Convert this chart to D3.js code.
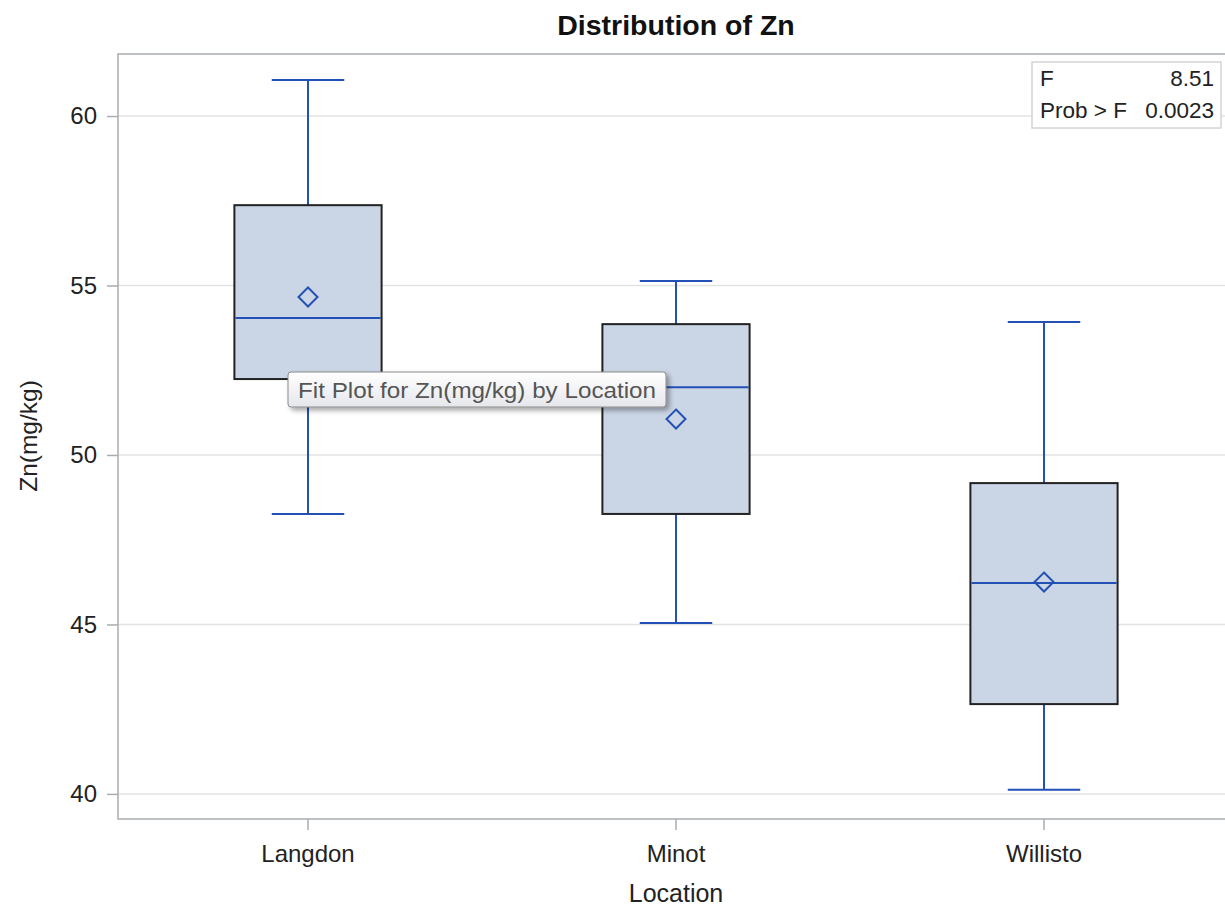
<!DOCTYPE html>
<html><head><meta charset="utf-8">
<script src="https://cdn.jsdelivr.net/npm/d3@7"></script>
<style>body{margin:0;background:#fff}svg{display:block}text{font-family:"Liberation Sans",Arial,sans-serif}</style>
</head><body>
<svg id="c" width="1225" height="909"></svg>
<script>
const categories = ["Langdon","Minot","Willisto"];
const whiskerMin = [48.26, 45.04, 40.12];
const q1Values   = [52.24, 48.26, 42.65];
const medians    = [54.04, 52.00, 46.22];
const q3Values   = [57.37, 53.86, 49.17];
const whiskerMax = [61.06, 55.13, 53.92];
const means      = [54.66, 51.06, 46.25];
const yTicks     = [40, 45, 50, 55, 60];
const statLabels = ["F", "Prob > F"];
const statValues = ["8.51", "0.0023"];

const svg = d3.select("#c");
const L = 118, T = 54, B = 819, R = 1236;
const x = d3.scaleBand().domain(categories).range([124, 1228]);
const y = d3.scaleLinear().domain([39.26, 61.83]).range([B, T]);
const blue = "#2350b4";

svg.append("g").selectAll("line").data(yTicks).join("line")
  .attr("x1", L).attr("x2", R).attr("y1", d => y(d)).attr("y2", d => y(d))
  .attr("stroke", "#e3e3e3").attr("stroke-width", 1.5);

svg.append("rect").attr("x", L).attr("y", T).attr("width", R - L).attr("height", B - T)
  .attr("fill", "none").attr("stroke", "#a9adb1").attr("stroke-width", 1.5);

const yAxis = svg.append("g").attr("transform", `translate(${L},0)`)
  .call(d3.axisLeft(y).tickValues(yTicks).tickSize(11).tickPadding(10));
const xAxis = svg.append("g").attr("transform", `translate(0,${B})`)
  .call(d3.axisBottom(x).tickSize(11).tickPadding(15));
[yAxis, xAxis].forEach(a => {
  a.attr("font-size", 24).attr("font-family", '"Liberation Sans",Arial,sans-serif');
  a.select(".domain").remove();
  a.selectAll(".tick line").attr("stroke", "#a9adb1").attr("stroke-width", 1.5);
  a.selectAll(".tick text").attr("fill", "#222").attr("font-size", 24);
});

const bw = x.bandwidth() * 0.4, cw = x.bandwidth() * 0.197;
const g = svg.append("g");
categories.forEach((c, i) => {
  const cx = x(c) + x.bandwidth() / 2;
  g.append("line").attr("x1", cx).attr("x2", cx).attr("y1", y(whiskerMax[i])).attr("y2", y(q3Values[i]))
    .attr("stroke", blue).attr("stroke-width", 2);
  g.append("line").attr("x1", cx).attr("x2", cx).attr("y1", y(q1Values[i])).attr("y2", y(whiskerMin[i]))
    .attr("stroke", blue).attr("stroke-width", 2);
  [whiskerMax[i], whiskerMin[i]].forEach(v => g.append("line")
    .attr("x1", cx - cw / 2).attr("x2", cx + cw / 2).attr("y1", y(v)).attr("y2", y(v))
    .attr("stroke", blue).attr("stroke-width", 2));
  g.append("rect").attr("x", cx - bw / 2).attr("y", y(q3Values[i]))
    .attr("width", bw).attr("height", y(q1Values[i]) - y(q3Values[i]))
    .attr("fill", "#cad5e5").attr("stroke", "#222").attr("stroke-width", 2);
  g.append("line").attr("x1", cx - bw / 2 + 1).attr("x2", cx + bw / 2 - 1)
    .attr("y1", y(medians[i])).attr("y2", y(medians[i]))
    .attr("stroke", blue).attr("stroke-width", 2);
  const my = y(means[i]), s = 9.5;
  g.append("path").attr("d", `M${cx},${my - s}L${cx + s},${my}L${cx},${my + s}L${cx - s},${my}Z`)
    .attr("fill", "none").attr("stroke", blue).attr("stroke-width", 2);
});

const ins = svg.append("g");
ins.append("rect").attr("x", 1032).attr("y", 62).attr("width", 189).attr("height", 66)
  .attr("fill", "#fff").attr("stroke", "#d4d4d4").attr("stroke-width", 1.5);
statLabels.forEach((t, i) => {
  ins.append("text").attr("x", 1040).attr("y", 86 + i * 32).attr("font-size", 22.5).attr("fill", "#222").text(t);
  ins.append("text").attr("x", 1214).attr("y", 86 + i * 32).attr("font-size", 22.5).attr("fill", "#222")
    .attr("text-anchor", "end").text(statValues[i]);
});

svg.append("text").attr("x", 676).attr("y", 35).attr("text-anchor", "middle")
  .attr("font-size", 28.5).attr("font-weight", "bold").attr("fill", "#111").text("Distribution of Zn");
svg.append("text").attr("x", 676).attr("y", 902).attr("text-anchor", "middle")
  .attr("font-size", 25).attr("fill", "#222").text("Location");
svg.append("text").attr("transform", "translate(37,436) rotate(-90)").attr("text-anchor", "middle")
  .attr("font-size", 24.5).attr("fill", "#222").text("Zn(mg/kg)");

const defs = svg.append("defs");
const grad = defs.append("linearGradient").attr("id", "tg").attr("x1", 0).attr("x2", 0).attr("y1", 0).attr("y2", 1);
grad.append("stop").attr("offset", "0%").attr("stop-color", "#ffffff");
grad.append("stop").attr("offset", "100%").attr("stop-color", "#e6e7ec");
const flt = defs.append("filter").attr("id", "sh").attr("x", "-10%").attr("y", "-30%").attr("width", "130%").attr("height", "180%");
flt.append("feDropShadow").attr("dx", 3).attr("dy", 3).attr("stdDeviation", 2.5).attr("flood-color", "#000").attr("flood-opacity", 0.35);
svg.append("rect").attr("x", 288).attr("y", 372).attr("width", 378).attr("height", 35).attr("rx", 3)
  .attr("fill", "url(#tg)").attr("stroke", "#8a8a8a").attr("stroke-width", 1).attr("filter", "url(#sh)");
svg.append("text").attr("x", 298).attr("y", 398).attr("font-size", 22).attr("fill", "#555")
  .attr("font-family", '"Open Sans","Noto Sans",sans-serif').attr("textLength", 358)
  .attr("lengthAdjust", "spacingAndGlyphs").text("Fit Plot for Zn(mg/kg) by Location");
</script>
</body></html>
